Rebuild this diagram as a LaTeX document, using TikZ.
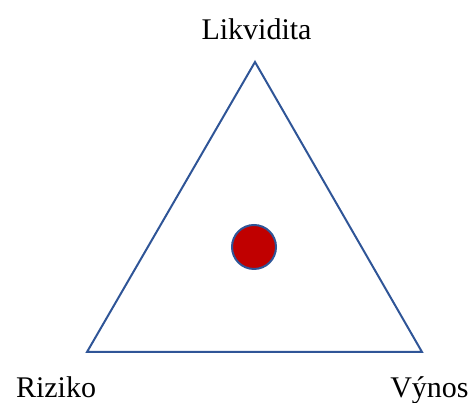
\documentclass[tikz,border=0pt]{standalone}
\usepackage{fontspec}
\setmainfont{Liberation Serif}
\definecolor{edgeblue}{HTML}{2F5597}
\definecolor{dotred}{HTML}{C00000}
\begin{document}
\begin{tikzpicture}[x=1pt,y=1pt,
  lbl/.style={font=\fontsize{30}{36}\selectfont, anchor=base, inner sep=0pt},
  tri/.style={draw=edgeblue, line width=2pt, line join=miter}]
\useasboundingbox (0,0) rectangle (475,403);
\coordinate (top) at (255,341);
\coordinate (bl) at (87,51);
\coordinate (br) at (422,51);
\draw[tri] (top) -- (bl) -- (br) -- cycle;
\node[circle, draw=edgeblue, fill=dotred, line width=2pt, minimum size=44pt, inner sep=0pt] (dot) at (254,156) {};
\node[lbl] (lik) at (256.5,363) {Likvidita};
\node[lbl] (riz) at (56,5) {Riziko};
\node[lbl] (vyn) at (429.5,5) {Výnos};
\end{tikzpicture}
\end{document}
